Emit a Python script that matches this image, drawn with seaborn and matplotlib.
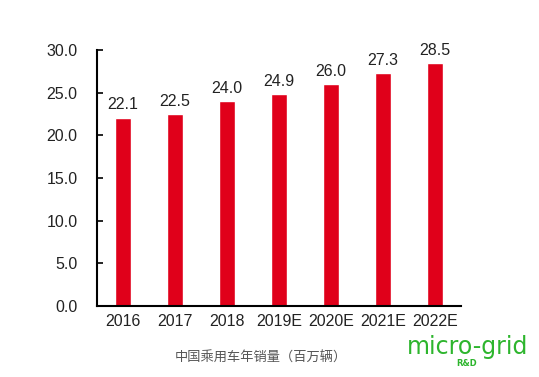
import matplotlib
matplotlib.use("Agg")
import matplotlib.pyplot as plt
import seaborn as sns
import pandas as pd

# data
years = ['2016', '2017', '2018', '2019E', '2020E', '2021E', '2022E']
sales = [22.1, 22.5, 24.0, 24.9, 26.0, 27.3, 28.5]
yticks = [0, 5, 10, 15, 20, 25, 30]

df = pd.DataFrame({'year': years, 'sales': sales})

sns.set_style("white")
plt.rcParams['font.family'] = ['Liberation Sans', 'DejaVu Sans']

fig = plt.figure(figsize=(5.39, 3.77), dpi=100)
ax = fig.add_axes([0.18, 0.188, 0.675, 0.679])

sns.barplot(data=df, x='year', y='sales', color='#E0001A', saturation=1,
            width=0.31, ax=ax)

for i, v in enumerate(sales):
    ax.text(i, v + 0.6, f"{v:.1f}", ha='center', va='bottom', fontsize=11.5, color='#222222')

ax.set_xlim(-0.5, 6.5)
ax.set_ylim(0, 30)
ax.set_yticks(yticks)
ax.set_yticklabels([f"{t:.1f}" for t in yticks])
ax.set_xlabel("")
ax.set_ylabel("")
ax.tick_params(axis='y', direction='in', length=4, width=1.2, labelsize=11.5,
               colors='black', pad=14, left=True)
ax.tick_params(axis='x', length=0, labelsize=11.5, pad=6)
for t in ax.get_yticklabels() + ax.get_xticklabels():
    t.set_color('#222222')
sns.despine(ax=ax)
ax.spines['left'].set_linewidth(1.5)
ax.spines['bottom'].set_linewidth(1.5)
ax.spines['left'].set_color('black')
ax.spines['bottom'].set_color('black')

fig.text(0.484, 0.05, "中国乘用车年销量（百万辆）", ha='center', va='center',
         fontsize=9.5, color='#555555', family=['Noto Sans CJK SC', 'DejaVu Sans'])
fig.text(0.868, 0.08, "micro-grid", ha='center', va='center',
         fontsize=17, color='#2DB52D', family=['DejaVu Sans'])
fig.text(0.865, 0.035, "R&D", ha='center', va='center',
         fontsize=6, color='#2DB52D', fontweight='bold', family=['DejaVu Sans'])

fig.savefig("out.png", dpi=100)
